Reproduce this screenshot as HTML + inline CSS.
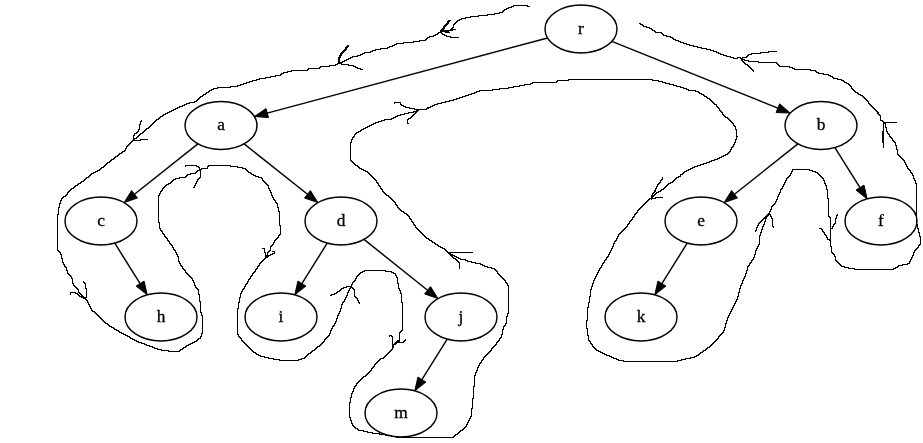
<!DOCTYPE html>
<html><head><meta charset="utf-8"><style>
html,body{margin:0;padding:0;background:#fff;}
svg{display:block;will-change:transform;}
.e{fill:none;stroke:#000;stroke-width:1.45;}
.ah{fill:#000;stroke:#000;stroke-width:1;}
.n{fill:none;stroke:#000;stroke-width:1.45;}
.h{fill:none;stroke:#000;stroke-width:1.35;stroke-linejoin:round;shape-rendering:crispEdges;}
text{font-family:"Liberation Serif",serif;font-size:17.4px;text-anchor:middle;fill:#000;stroke:#000;stroke-width:0.3;}
</style></head><body>
<svg width="923" height="443" viewBox="0 0 923 443">
<rect width="923" height="443" fill="#fff"/>
<path d="M513 5h15v1h-15zM511 6h3v1h-3zM527 6h3v1h-3zM508 7h4v1h-4zM506 8h3v1h-3zM504 9h3v1h-3zM503 10h2v1h-2zM502 11h2v1h-2zM499 12h4v1h-4zM494 13h6v1h-6zM487 14h8v1h-8zM478 15h10v1h-10zM470 16h9v1h-9zM465 17h6v1h-6zM461 18h5v1h-5zM459 19h3v1h-3zM448 20h3v1h-3zM457 20h3v1h-3zM447 21h3v1h-3zM456 21h2v1h-2zM447 22h2v1h-2zM455 22h2v1h-2zM446 23h3v1h-3zM454 23h2v1h-2zM639 23h2v1h-2zM445 24h3v1h-3zM453 24h2v1h-2zM640 24h3v1h-3zM444 25h3v1h-3zM453 25h1v1h-1zM642 25h2v1h-2zM443 26h3v1h-3zM453 26h1v1h-1zM643 26h4v1h-4zM443 27h2v1h-2zM452 27h2v1h-2zM646 27h4v1h-4zM442 28h3v1h-3zM451 28h2v1h-2zM649 28h3v1h-3zM441 29h3v1h-3zM450 29h6v1h-6zM651 29h2v1h-2zM440 30h13v1h-13zM652 30h3v1h-3zM440 31h9v1h-9zM654 31h2v1h-2zM438 32h4v1h-4zM445 32h5v1h-5zM655 32h7v1h-7zM437 33h2v1h-2zM441 33h2v1h-2zM661 33h2v1h-2zM435 34h3v1h-3zM442 34h3v1h-3zM662 34h2v1h-2zM433 35h3v1h-3zM444 35h3v1h-3zM663 35h4v1h-4zM429 36h5v1h-5zM446 36h5v1h-5zM666 36h5v1h-5zM427 37h3v1h-3zM450 37h9v1h-9zM670 37h3v1h-3zM426 38h2v1h-2zM672 38h2v1h-2zM425 39h2v1h-2zM673 39h3v1h-3zM419 40h7v1h-7zM675 40h4v1h-4zM413 41h7v1h-7zM678 41h3v1h-3zM403 42h11v1h-11zM680 42h4v1h-4zM396 43h8v1h-8zM683 43h4v1h-4zM394 44h3v1h-3zM686 44h4v1h-4zM347 45h2v1h-2zM392 45h3v1h-3zM689 45h5v1h-5zM346 46h3v1h-3zM389 46h4v1h-4zM693 46h5v1h-5zM345 47h3v1h-3zM387 47h3v1h-3zM697 47h5v1h-5zM345 48h2v1h-2zM380 48h8v1h-8zM701 48h6v1h-6zM344 49h3v1h-3zM375 49h6v1h-6zM706 49h5v1h-5zM343 50h3v1h-3zM372 50h4v1h-4zM710 50h4v1h-4zM342 51h3v1h-3zM370 51h3v1h-3zM713 51h4v1h-4zM768 51h9v1h-9zM341 52h3v1h-3zM364 52h7v1h-7zM716 52h3v1h-3zM760 52h9v1h-9zM340 53h3v1h-3zM362 53h3v1h-3zM718 53h3v1h-3zM751 53h10v1h-10zM340 54h2v1h-2zM360 54h3v1h-3zM720 54h4v1h-4zM748 54h4v1h-4zM339 55h3v1h-3zM357 55h4v1h-4zM723 55h4v1h-4zM747 55h2v1h-2zM339 56h2v1h-2zM352 56h6v1h-6zM726 56h5v1h-5zM746 56h2v1h-2zM338 57h3v1h-3zM350 57h3v1h-3zM730 57h4v1h-4zM737 57h4v1h-4zM742 57h5v1h-5zM338 58h2v1h-2zM348 58h3v1h-3zM733 58h5v1h-5zM740 58h3v1h-3zM338 59h2v1h-2zM346 59h3v1h-3zM741 59h4v1h-4zM338 60h2v1h-2zM344 60h3v1h-3zM741 60h2v1h-2zM744 60h5v1h-5zM338 61h2v1h-2zM342 61h3v1h-3zM742 61h2v1h-2zM748 61h11v1h-11zM338 62h5v1h-5zM743 62h2v1h-2zM758 62h19v1h-19zM337 63h5v1h-5zM744 63h2v1h-2zM776 63h2v1h-2zM335 64h3v1h-3zM341 64h8v1h-8zM745 64h3v1h-3zM777 64h2v1h-2zM329 65h7v1h-7zM348 65h6v1h-6zM747 65h2v1h-2zM778 65h2v1h-2zM320 66h10v1h-10zM353 66h3v1h-3zM748 66h2v1h-2zM779 66h11v1h-11zM319 67h2v1h-2zM355 67h3v1h-3zM749 67h2v1h-2zM789 67h4v1h-4zM308 68h12v1h-12zM357 68h4v1h-4zM750 68h2v1h-2zM792 68h3v1h-3zM307 69h2v1h-2zM360 69h3v1h-3zM751 69h2v1h-2zM794 69h17v1h-17zM291 70h17v1h-17zM752 70h2v1h-2zM810 70h6v1h-6zM287 71h5v1h-5zM753 71h1v1h-1zM815 71h2v1h-2zM283 72h5v1h-5zM816 72h3v1h-3zM281 73h3v1h-3zM818 73h6v1h-6zM280 74h2v1h-2zM823 74h6v1h-6zM275 75h6v1h-6zM828 75h3v1h-3zM270 76h6v1h-6zM830 76h3v1h-3zM265 77h6v1h-6zM832 77h2v1h-2zM259 78h7v1h-7zM833 78h5v1h-5zM256 79h4v1h-4zM568 79h85v1h-85zM837 79h5v1h-5zM252 80h5v1h-5zM557 80h12v1h-12zM652 80h7v1h-7zM841 80h3v1h-3zM249 81h4v1h-4zM556 81h2v1h-2zM658 81h5v1h-5zM843 81h2v1h-2zM246 82h4v1h-4zM532 82h25v1h-25zM662 82h4v1h-4zM844 82h3v1h-3zM243 83h4v1h-4zM530 83h3v1h-3zM665 83h5v1h-5zM846 83h3v1h-3zM240 84h4v1h-4zM524 84h7v1h-7zM669 84h5v1h-5zM848 84h2v1h-2zM237 85h4v1h-4zM519 85h6v1h-6zM673 85h4v1h-4zM849 85h2v1h-2zM230 86h8v1h-8zM513 86h7v1h-7zM676 86h5v1h-5zM850 86h2v1h-2zM217 87h14v1h-14zM508 87h6v1h-6zM680 87h4v1h-4zM851 87h1v1h-1zM213 88h5v1h-5zM499 88h10v1h-10zM683 88h4v1h-4zM851 88h2v1h-2zM211 89h3v1h-3zM492 89h8v1h-8zM686 89h3v1h-3zM852 89h2v1h-2zM209 90h3v1h-3zM479 90h14v1h-14zM688 90h8v1h-8zM853 90h2v1h-2zM208 91h2v1h-2zM476 91h4v1h-4zM695 91h4v1h-4zM854 91h2v1h-2zM206 92h3v1h-3zM474 92h3v1h-3zM698 92h2v1h-2zM855 92h3v1h-3zM205 93h2v1h-2zM471 93h4v1h-4zM699 93h3v1h-3zM857 93h2v1h-2zM203 94h3v1h-3zM468 94h4v1h-4zM701 94h3v1h-3zM858 94h3v1h-3zM202 95h2v1h-2zM465 95h4v1h-4zM703 95h2v1h-2zM860 95h3v1h-3zM200 96h3v1h-3zM462 96h4v1h-4zM704 96h3v1h-3zM862 96h2v1h-2zM199 97h2v1h-2zM459 97h4v1h-4zM706 97h2v1h-2zM863 97h2v1h-2zM198 98h2v1h-2zM456 98h4v1h-4zM707 98h3v1h-3zM864 98h2v1h-2zM197 99h2v1h-2zM453 99h4v1h-4zM709 99h2v1h-2zM865 99h2v1h-2zM196 100h2v1h-2zM449 100h5v1h-5zM710 100h2v1h-2zM866 100h2v1h-2zM194 101h3v1h-3zM445 101h5v1h-5zM711 101h2v1h-2zM867 101h2v1h-2zM189 102h6v1h-6zM394 102h7v1h-7zM441 102h5v1h-5zM712 102h2v1h-2zM868 102h1v1h-1zM186 103h4v1h-4zM394 103h1v1h-1zM400 103h1v1h-1zM437 103h5v1h-5zM713 103h2v1h-2zM868 103h2v1h-2zM184 104h3v1h-3zM400 104h2v1h-2zM434 104h4v1h-4zM714 104h3v1h-3zM869 104h2v1h-2zM182 105h3v1h-3zM401 105h3v1h-3zM432 105h3v1h-3zM716 105h1v1h-1zM870 105h2v1h-2zM179 106h4v1h-4zM403 106h3v1h-3zM430 106h3v1h-3zM716 106h2v1h-2zM871 106h2v1h-2zM177 107h3v1h-3zM405 107h5v1h-5zM427 107h4v1h-4zM717 107h2v1h-2zM872 107h2v1h-2zM175 108h3v1h-3zM409 108h6v1h-6zM426 108h3v1h-3zM718 108h2v1h-2zM873 108h2v1h-2zM173 109h3v1h-3zM414 109h13v1h-13zM719 109h1v1h-1zM874 109h2v1h-2zM171 110h3v1h-3zM416 110h3v1h-3zM719 110h2v1h-2zM875 110h2v1h-2zM169 111h3v1h-3zM413 111h5v1h-5zM720 111h2v1h-2zM876 111h2v1h-2zM167 112h3v1h-3zM408 112h6v1h-6zM415 112h2v1h-2zM721 112h2v1h-2zM877 112h2v1h-2zM165 113h3v1h-3zM404 113h5v1h-5zM414 113h2v1h-2zM722 113h1v1h-1zM877 113h2v1h-2zM163 114h3v1h-3zM400 114h5v1h-5zM413 114h2v1h-2zM722 114h2v1h-2zM878 114h2v1h-2zM162 115h2v1h-2zM397 115h4v1h-4zM412 115h2v1h-2zM723 115h2v1h-2zM879 115h2v1h-2zM160 116h3v1h-3zM395 116h3v1h-3zM411 116h2v1h-2zM724 116h2v1h-2zM880 116h1v1h-1zM159 117h2v1h-2zM393 117h3v1h-3zM410 117h2v1h-2zM725 117h3v1h-3zM880 117h1v1h-1zM158 118h2v1h-2zM391 118h3v1h-3zM408 118h3v1h-3zM727 118h2v1h-2zM880 118h1v1h-1zM156 119h3v1h-3zM384 119h8v1h-8zM407 119h2v1h-2zM728 119h2v1h-2zM880 119h1v1h-1zM141 120h1v1h-1zM155 120h2v1h-2zM381 120h4v1h-4zM407 120h1v1h-1zM729 120h2v1h-2zM880 120h3v1h-3zM140 121h2v1h-2zM154 121h2v1h-2zM378 121h4v1h-4zM407 121h1v1h-1zM730 121h2v1h-2zM882 121h2v1h-2zM140 122h1v1h-1zM153 122h2v1h-2zM375 122h4v1h-4zM407 122h1v1h-1zM731 122h2v1h-2zM883 122h14v1h-14zM140 123h1v1h-1zM152 123h2v1h-2zM373 123h3v1h-3zM407 123h2v1h-2zM732 123h2v1h-2zM883 123h3v1h-3zM139 124h2v1h-2zM151 124h2v1h-2zM371 124h3v1h-3zM733 124h1v1h-1zM883 124h1v1h-1zM885 124h1v1h-1zM139 125h1v1h-1zM150 125h2v1h-2zM369 125h3v1h-3zM733 125h2v1h-2zM883 125h1v1h-1zM885 125h1v1h-1zM139 126h1v1h-1zM149 126h2v1h-2zM367 126h3v1h-3zM734 126h2v1h-2zM883 126h1v1h-1zM885 126h1v1h-1zM139 127h1v1h-1zM148 127h2v1h-2zM365 127h3v1h-3zM735 127h1v1h-1zM883 127h1v1h-1zM885 127h2v1h-2zM139 128h1v1h-1zM146 128h3v1h-3zM363 128h3v1h-3zM735 128h1v1h-1zM883 128h1v1h-1zM886 128h1v1h-1zM138 129h2v1h-2zM145 129h2v1h-2zM361 129h3v1h-3zM735 129h2v1h-2zM883 129h1v1h-1zM886 129h1v1h-1zM138 130h1v1h-1zM144 130h2v1h-2zM360 130h2v1h-2zM736 130h1v1h-1zM883 130h1v1h-1zM886 130h1v1h-1zM137 131h2v1h-2zM143 131h2v1h-2zM358 131h3v1h-3zM736 131h1v1h-1zM882 131h2v1h-2zM886 131h2v1h-2zM136 132h2v1h-2zM142 132h2v1h-2zM356 132h3v1h-3zM736 132h1v1h-1zM882 132h2v1h-2zM887 132h1v1h-1zM134 133h3v1h-3zM140 133h3v1h-3zM355 133h2v1h-2zM736 133h1v1h-1zM882 133h2v1h-2zM887 133h2v1h-2zM134 134h1v1h-1zM139 134h2v1h-2zM354 134h2v1h-2zM736 134h1v1h-1zM882 134h2v1h-2zM888 134h2v1h-2zM133 135h2v1h-2zM138 135h2v1h-2zM354 135h1v1h-1zM736 135h1v1h-1zM882 135h2v1h-2zM889 135h1v1h-1zM133 136h1v1h-1zM137 136h2v1h-2zM353 136h2v1h-2zM736 136h2v1h-2zM882 136h2v1h-2zM889 136h2v1h-2zM133 137h1v1h-1zM136 137h2v1h-2zM352 137h2v1h-2zM736 137h1v1h-1zM882 137h2v1h-2zM890 137h2v1h-2zM133 138h4v1h-4zM352 138h1v1h-1zM736 138h1v1h-1zM882 138h2v1h-2zM891 138h2v1h-2zM133 139h2v1h-2zM140 139h8v1h-8zM351 139h2v1h-2zM735 139h2v1h-2zM882 139h2v1h-2zM892 139h1v1h-1zM132 140h9v1h-9zM351 140h1v1h-1zM735 140h1v1h-1zM882 140h2v1h-2zM892 140h2v1h-2zM131 141h2v1h-2zM351 141h1v1h-1zM735 141h1v1h-1zM882 141h2v1h-2zM893 141h2v1h-2zM130 142h2v1h-2zM350 142h2v1h-2zM734 142h2v1h-2zM882 142h2v1h-2zM894 142h2v1h-2zM129 143h2v1h-2zM350 143h1v1h-1zM734 143h1v1h-1zM883 143h1v1h-1zM895 143h1v1h-1zM128 144h2v1h-2zM350 144h1v1h-1zM733 144h2v1h-2zM883 144h1v1h-1zM895 144h1v1h-1zM127 145h2v1h-2zM350 145h1v1h-1zM733 145h1v1h-1zM883 145h1v1h-1zM895 145h2v1h-2zM126 146h2v1h-2zM350 146h1v1h-1zM732 146h2v1h-2zM883 146h1v1h-1zM896 146h1v1h-1zM126 147h1v1h-1zM350 147h1v1h-1zM731 147h2v1h-2zM883 147h1v1h-1zM896 147h1v1h-1zM125 148h2v1h-2zM350 148h1v1h-1zM731 148h1v1h-1zM896 148h1v1h-1zM125 149h1v1h-1zM350 149h1v1h-1zM730 149h2v1h-2zM896 149h2v1h-2zM124 150h2v1h-2zM350 150h1v1h-1zM730 150h1v1h-1zM897 150h1v1h-1zM122 151h3v1h-3zM350 151h1v1h-1zM729 151h2v1h-2zM897 151h1v1h-1zM121 152h2v1h-2zM350 152h1v1h-1zM728 152h2v1h-2zM897 152h1v1h-1zM119 153h3v1h-3zM350 153h1v1h-1zM727 153h2v1h-2zM897 153h1v1h-1zM118 154h2v1h-2zM350 154h1v1h-1zM725 154h3v1h-3zM897 154h2v1h-2zM117 155h2v1h-2zM350 155h1v1h-1zM723 155h3v1h-3zM898 155h2v1h-2zM115 156h3v1h-3zM350 156h1v1h-1zM721 156h3v1h-3zM899 156h2v1h-2zM114 157h2v1h-2zM350 157h1v1h-1zM719 157h3v1h-3zM900 157h2v1h-2zM113 158h2v1h-2zM350 158h1v1h-1zM717 158h3v1h-3zM901 158h2v1h-2zM111 159h3v1h-3zM350 159h1v1h-1zM714 159h4v1h-4zM902 159h2v1h-2zM110 160h2v1h-2zM350 160h2v1h-2zM711 160h4v1h-4zM903 160h2v1h-2zM109 161h2v1h-2zM351 161h2v1h-2zM709 161h3v1h-3zM904 161h1v1h-1zM107 162h3v1h-3zM352 162h2v1h-2zM706 162h4v1h-4zM904 162h2v1h-2zM106 163h2v1h-2zM353 163h2v1h-2zM703 163h4v1h-4zM905 163h1v1h-1zM105 164h2v1h-2zM354 164h2v1h-2zM700 164h4v1h-4zM905 164h2v1h-2zM104 165h2v1h-2zM185 165h12v1h-12zM208 165h23v1h-23zM355 165h3v1h-3zM697 165h4v1h-4zM906 165h1v1h-1zM103 166h2v1h-2zM185 166h1v1h-1zM196 166h3v1h-3zM207 166h2v1h-2zM230 166h8v1h-8zM357 166h2v1h-2zM694 166h4v1h-4zM906 166h2v1h-2zM101 167h3v1h-3zM198 167h2v1h-2zM207 167h1v1h-1zM237 167h6v1h-6zM358 167h2v1h-2zM692 167h3v1h-3zM907 167h1v1h-1zM100 168h2v1h-2zM199 168h1v1h-1zM201 168h7v1h-7zM242 168h4v1h-4zM359 168h3v1h-3zM690 168h3v1h-3zM907 168h2v1h-2zM99 169h2v1h-2zM199 169h3v1h-3zM245 169h2v1h-2zM361 169h3v1h-3zM688 169h3v1h-3zM792 169h18v1h-18zM908 169h2v1h-2zM97 170h3v1h-3zM197 170h4v1h-4zM246 170h2v1h-2zM363 170h3v1h-3zM686 170h3v1h-3zM792 170h1v1h-1zM809 170h4v1h-4zM909 170h2v1h-2zM95 171h3v1h-3zM196 171h2v1h-2zM200 171h1v1h-1zM247 171h2v1h-2zM365 171h3v1h-3zM684 171h3v1h-3zM791 171h2v1h-2zM812 171h4v1h-4zM910 171h1v1h-1zM93 172h3v1h-3zM195 172h2v1h-2zM200 172h1v1h-1zM248 172h3v1h-3zM367 172h2v1h-2zM683 172h2v1h-2zM791 172h1v1h-1zM815 172h3v1h-3zM910 172h2v1h-2zM91 173h3v1h-3zM190 173h6v1h-6zM200 173h1v1h-1zM250 173h2v1h-2zM368 173h2v1h-2zM682 173h2v1h-2zM790 173h2v1h-2zM817 173h2v1h-2zM911 173h2v1h-2zM90 174h2v1h-2zM187 174h4v1h-4zM200 174h1v1h-1zM251 174h3v1h-3zM369 174h2v1h-2zM680 174h3v1h-3zM790 174h1v1h-1zM818 174h2v1h-2zM912 174h1v1h-1zM89 175h2v1h-2zM186 175h2v1h-2zM200 175h1v1h-1zM253 175h3v1h-3zM370 175h2v1h-2zM680 175h1v1h-1zM789 175h2v1h-2zM819 175h2v1h-2zM912 175h2v1h-2zM88 176h2v1h-2zM185 176h2v1h-2zM200 176h1v1h-1zM255 176h4v1h-4zM371 176h2v1h-2zM678 176h3v1h-3zM788 176h2v1h-2zM820 176h2v1h-2zM913 176h1v1h-1zM86 177h3v1h-3zM179 177h7v1h-7zM199 177h2v1h-2zM258 177h4v1h-4zM372 177h2v1h-2zM662 177h1v1h-1zM676 177h3v1h-3zM787 177h2v1h-2zM821 177h2v1h-2zM913 177h1v1h-1zM85 178h2v1h-2zM175 178h5v1h-5zM198 178h2v1h-2zM261 178h2v1h-2zM373 178h2v1h-2zM662 178h1v1h-1zM675 178h2v1h-2zM786 178h2v1h-2zM822 178h2v1h-2zM913 178h2v1h-2zM84 179h2v1h-2zM173 179h3v1h-3zM197 179h2v1h-2zM262 179h1v1h-1zM374 179h2v1h-2zM661 179h2v1h-2zM674 179h2v1h-2zM786 179h1v1h-1zM823 179h1v1h-1zM914 179h1v1h-1zM83 180h2v1h-2zM172 180h2v1h-2zM197 180h1v1h-1zM262 180h2v1h-2zM375 180h2v1h-2zM660 180h2v1h-2zM673 180h2v1h-2zM785 180h2v1h-2zM823 180h2v1h-2zM914 180h2v1h-2zM81 181h3v1h-3zM171 181h2v1h-2zM196 181h2v1h-2zM263 181h2v1h-2zM376 181h1v1h-1zM660 181h1v1h-1zM672 181h2v1h-2zM785 181h1v1h-1zM824 181h1v1h-1zM915 181h1v1h-1zM80 182h2v1h-2zM170 182h2v1h-2zM196 182h1v1h-1zM264 182h2v1h-2zM376 182h2v1h-2zM659 182h2v1h-2zM670 182h3v1h-3zM784 182h2v1h-2zM824 182h1v1h-1zM915 182h1v1h-1zM78 183h3v1h-3zM168 183h3v1h-3zM195 183h2v1h-2zM265 183h2v1h-2zM377 183h2v1h-2zM658 183h2v1h-2zM668 183h3v1h-3zM784 183h1v1h-1zM824 183h2v1h-2zM915 183h2v1h-2zM77 184h2v1h-2zM166 184h3v1h-3zM195 184h1v1h-1zM266 184h2v1h-2zM378 184h1v1h-1zM657 184h2v1h-2zM667 184h2v1h-2zM783 184h2v1h-2zM825 184h1v1h-1zM916 184h1v1h-1zM75 185h3v1h-3zM165 185h2v1h-2zM194 185h2v1h-2zM267 185h2v1h-2zM378 185h2v1h-2zM657 185h1v1h-1zM666 185h2v1h-2zM783 185h1v1h-1zM825 185h2v1h-2zM916 185h1v1h-1zM74 186h2v1h-2zM164 186h2v1h-2zM194 186h1v1h-1zM268 186h1v1h-1zM379 186h2v1h-2zM656 186h2v1h-2zM665 186h2v1h-2zM782 186h2v1h-2zM826 186h1v1h-1zM916 186h1v1h-1zM73 187h2v1h-2zM163 187h2v1h-2zM193 187h2v1h-2zM268 187h1v1h-1zM380 187h1v1h-1zM656 187h1v1h-1zM664 187h2v1h-2zM782 187h1v1h-1zM826 187h1v1h-1zM916 187h1v1h-1zM71 188h3v1h-3zM162 188h2v1h-2zM268 188h2v1h-2zM380 188h2v1h-2zM655 188h2v1h-2zM663 188h2v1h-2zM781 188h2v1h-2zM826 188h1v1h-1zM916 188h1v1h-1zM70 189h2v1h-2zM162 189h1v1h-1zM269 189h1v1h-1zM381 189h2v1h-2zM655 189h1v1h-1zM661 189h3v1h-3zM780 189h2v1h-2zM826 189h2v1h-2zM916 189h1v1h-1zM69 190h2v1h-2zM161 190h2v1h-2zM269 190h2v1h-2zM382 190h1v1h-1zM654 190h2v1h-2zM660 190h2v1h-2zM780 190h1v1h-1zM827 190h1v1h-1zM916 190h1v1h-1zM68 191h2v1h-2zM160 191h2v1h-2zM270 191h1v1h-1zM382 191h2v1h-2zM654 191h2v1h-2zM658 191h3v1h-3zM780 191h1v1h-1zM827 191h1v1h-1zM916 191h1v1h-1zM67 192h2v1h-2zM160 192h1v1h-1zM270 192h2v1h-2zM383 192h2v1h-2zM653 192h2v1h-2zM656 192h3v1h-3zM779 192h2v1h-2zM827 192h1v1h-1zM916 192h1v1h-1zM67 193h1v1h-1zM159 193h2v1h-2zM271 193h1v1h-1zM384 193h2v1h-2zM652 193h2v1h-2zM655 193h2v1h-2zM779 193h1v1h-1zM827 193h1v1h-1zM916 193h1v1h-1zM66 194h2v1h-2zM159 194h1v1h-1zM271 194h1v1h-1zM385 194h2v1h-2zM652 194h1v1h-1zM654 194h2v1h-2zM778 194h2v1h-2zM827 194h1v1h-1zM916 194h1v1h-1zM65 195h2v1h-2zM158 195h2v1h-2zM271 195h2v1h-2zM386 195h3v1h-3zM651 195h4v1h-4zM778 195h1v1h-1zM827 195h1v1h-1zM916 195h1v1h-1zM63 196h3v1h-3zM158 196h1v1h-1zM272 196h1v1h-1zM388 196h2v1h-2zM651 196h3v1h-3zM777 196h2v1h-2zM827 196h1v1h-1zM916 196h1v1h-1zM62 197h2v1h-2zM158 197h1v1h-1zM272 197h2v1h-2zM389 197h2v1h-2zM651 197h2v1h-2zM655 197h8v1h-8zM777 197h1v1h-1zM827 197h1v1h-1zM916 197h1v1h-1zM61 198h2v1h-2zM158 198h1v1h-1zM273 198h1v1h-1zM390 198h2v1h-2zM649 198h7v1h-7zM777 198h1v1h-1zM827 198h2v1h-2zM916 198h1v1h-1zM61 199h1v1h-1zM158 199h1v1h-1zM273 199h2v1h-2zM391 199h2v1h-2zM648 199h2v1h-2zM651 199h1v1h-1zM776 199h2v1h-2zM828 199h1v1h-1zM916 199h1v1h-1zM60 200h2v1h-2zM158 200h1v1h-1zM274 200h2v1h-2zM392 200h2v1h-2zM647 200h2v1h-2zM776 200h1v1h-1zM828 200h1v1h-1zM916 200h1v1h-1zM60 201h1v1h-1zM158 201h1v1h-1zM275 201h1v1h-1zM393 201h2v1h-2zM646 201h2v1h-2zM775 201h2v1h-2zM828 201h1v1h-1zM916 201h1v1h-1zM60 202h1v1h-1zM158 202h1v1h-1zM275 202h2v1h-2zM394 202h2v1h-2zM645 202h2v1h-2zM775 202h1v1h-1zM828 202h1v1h-1zM916 202h1v1h-1zM59 203h2v1h-2zM158 203h1v1h-1zM276 203h2v1h-2zM395 203h1v1h-1zM644 203h2v1h-2zM774 203h2v1h-2zM828 203h1v1h-1zM916 203h1v1h-1zM59 204h1v1h-1zM158 204h1v1h-1zM277 204h1v1h-1zM395 204h2v1h-2zM643 204h2v1h-2zM773 204h2v1h-2zM828 204h1v1h-1zM916 204h1v1h-1zM59 205h1v1h-1zM158 205h1v1h-1zM277 205h1v1h-1zM396 205h2v1h-2zM642 205h2v1h-2zM772 205h2v1h-2zM828 205h1v1h-1zM916 205h1v1h-1zM59 206h1v1h-1zM158 206h1v1h-1zM277 206h1v1h-1zM397 206h1v1h-1zM641 206h2v1h-2zM771 206h2v1h-2zM828 206h1v1h-1zM916 206h1v1h-1zM58 207h2v1h-2zM158 207h1v1h-1zM277 207h2v1h-2zM397 207h2v1h-2zM640 207h2v1h-2zM771 207h1v1h-1zM828 207h1v1h-1zM916 207h1v1h-1zM58 208h1v1h-1zM158 208h1v1h-1zM278 208h1v1h-1zM398 208h2v1h-2zM639 208h2v1h-2zM771 208h1v1h-1zM828 208h1v1h-1zM916 208h1v1h-1zM58 209h1v1h-1zM158 209h1v1h-1zM278 209h1v1h-1zM399 209h2v1h-2zM638 209h2v1h-2zM770 209h2v1h-2zM828 209h1v1h-1zM916 209h1v1h-1zM58 210h1v1h-1zM158 210h1v1h-1zM278 210h1v1h-1zM400 210h2v1h-2zM637 210h2v1h-2zM770 210h1v1h-1zM828 210h1v1h-1zM916 210h1v1h-1zM58 211h1v1h-1zM158 211h1v1h-1zM278 211h2v1h-2zM401 211h3v1h-3zM637 211h1v1h-1zM769 211h2v1h-2zM828 211h1v1h-1zM916 211h1v1h-1zM58 212h1v1h-1zM158 212h1v1h-1zM279 212h1v1h-1zM403 212h2v1h-2zM636 212h2v1h-2zM769 212h1v1h-1zM828 212h1v1h-1zM916 212h1v1h-1zM58 213h1v1h-1zM158 213h1v1h-1zM279 213h1v1h-1zM404 213h3v1h-3zM635 213h2v1h-2zM768 213h2v1h-2zM828 213h1v1h-1zM916 213h1v1h-1zM57 214h2v1h-2zM158 214h1v1h-1zM279 214h1v1h-1zM406 214h2v1h-2zM634 214h2v1h-2zM767 214h4v1h-4zM828 214h1v1h-1zM837 214h1v1h-1zM916 214h1v1h-1zM57 215h1v1h-1zM158 215h1v1h-1zM279 215h1v1h-1zM407 215h2v1h-2zM634 215h1v1h-1zM766 215h3v1h-3zM770 215h1v1h-1zM828 215h1v1h-1zM836 215h2v1h-2zM916 215h1v1h-1zM57 216h1v1h-1zM158 216h1v1h-1zM279 216h1v1h-1zM408 216h2v1h-2zM633 216h2v1h-2zM765 216h3v1h-3zM770 216h2v1h-2zM828 216h2v1h-2zM836 216h1v1h-1zM916 216h1v1h-1zM57 217h1v1h-1zM158 217h1v1h-1zM279 217h1v1h-1zM409 217h1v1h-1zM632 217h2v1h-2zM764 217h3v1h-3zM771 217h1v1h-1zM829 217h2v1h-2zM836 217h1v1h-1zM916 217h1v1h-1zM57 218h1v1h-1zM158 218h1v1h-1zM279 218h1v1h-1zM409 218h2v1h-2zM632 218h1v1h-1zM763 218h4v1h-4zM771 218h2v1h-2zM830 218h1v1h-1zM835 218h2v1h-2zM916 218h1v1h-1zM57 219h1v1h-1zM158 219h1v1h-1zM279 219h1v1h-1zM410 219h2v1h-2zM631 219h2v1h-2zM762 219h2v1h-2zM765 219h1v1h-1zM772 219h1v1h-1zM830 219h1v1h-1zM835 219h1v1h-1zM916 219h1v1h-1zM57 220h1v1h-1zM158 220h1v1h-1zM279 220h1v1h-1zM411 220h1v1h-1zM630 220h2v1h-2zM761 220h2v1h-2zM765 220h1v1h-1zM772 220h1v1h-1zM830 220h1v1h-1zM835 220h1v1h-1zM916 220h1v1h-1zM57 221h1v1h-1zM158 221h1v1h-1zM279 221h1v1h-1zM411 221h2v1h-2zM629 221h2v1h-2zM760 221h2v1h-2zM764 221h2v1h-2zM772 221h1v1h-1zM830 221h1v1h-1zM835 221h1v1h-1zM916 221h1v1h-1zM57 222h1v1h-1zM158 222h2v1h-2zM279 222h1v1h-1zM412 222h2v1h-2zM629 222h1v1h-1zM759 222h2v1h-2zM764 222h1v1h-1zM772 222h1v1h-1zM830 222h1v1h-1zM835 222h1v1h-1zM916 222h1v1h-1zM57 223h1v1h-1zM159 223h1v1h-1zM279 223h1v1h-1zM413 223h1v1h-1zM628 223h2v1h-2zM758 223h2v1h-2zM764 223h1v1h-1zM772 223h1v1h-1zM830 223h1v1h-1zM834 223h2v1h-2zM916 223h1v1h-1zM57 224h1v1h-1zM159 224h1v1h-1zM279 224h1v1h-1zM413 224h2v1h-2zM627 224h2v1h-2zM758 224h1v1h-1zM763 224h2v1h-2zM772 224h1v1h-1zM830 224h1v1h-1zM833 224h2v1h-2zM916 224h2v1h-2zM57 225h1v1h-1zM159 225h1v1h-1zM279 225h2v1h-2zM414 225h2v1h-2zM627 225h1v1h-1zM757 225h2v1h-2zM763 225h1v1h-1zM772 225h1v1h-1zM830 225h1v1h-1zM833 225h1v1h-1zM917 225h1v1h-1zM57 226h1v1h-1zM159 226h1v1h-1zM280 226h1v1h-1zM415 226h1v1h-1zM626 226h2v1h-2zM757 226h1v1h-1zM762 226h2v1h-2zM772 226h2v1h-2zM830 226h1v1h-1zM832 226h2v1h-2zM917 226h1v1h-1zM57 227h1v1h-1zM159 227h1v1h-1zM280 227h1v1h-1zM415 227h2v1h-2zM625 227h2v1h-2zM756 227h2v1h-2zM762 227h1v1h-1zM773 227h1v1h-1zM830 227h1v1h-1zM832 227h1v1h-1zM917 227h1v1h-1zM57 228h1v1h-1zM159 228h2v1h-2zM280 228h1v1h-1zM416 228h2v1h-2zM624 228h2v1h-2zM756 228h1v1h-1zM762 228h1v1h-1zM819 228h3v1h-3zM830 228h3v1h-3zM917 228h2v1h-2zM57 229h1v1h-1zM160 229h1v1h-1zM280 229h1v1h-1zM417 229h2v1h-2zM623 229h2v1h-2zM756 229h1v1h-1zM761 229h2v1h-2zM821 229h2v1h-2zM830 229h1v1h-1zM918 229h1v1h-1zM57 230h1v1h-1zM160 230h2v1h-2zM280 230h1v1h-1zM418 230h2v1h-2zM622 230h2v1h-2zM755 230h2v1h-2zM761 230h1v1h-1zM822 230h1v1h-1zM830 230h1v1h-1zM918 230h1v1h-1zM57 231h1v1h-1zM161 231h2v1h-2zM280 231h1v1h-1zM419 231h2v1h-2zM621 231h2v1h-2zM755 231h1v1h-1zM761 231h1v1h-1zM822 231h2v1h-2zM830 231h1v1h-1zM918 231h1v1h-1zM57 232h1v1h-1zM162 232h1v1h-1zM280 232h1v1h-1zM420 232h2v1h-2zM620 232h2v1h-2zM760 232h2v1h-2zM823 232h2v1h-2zM830 232h1v1h-1zM918 232h2v1h-2zM57 233h1v1h-1zM162 233h2v1h-2zM280 233h1v1h-1zM421 233h2v1h-2zM619 233h2v1h-2zM760 233h1v1h-1zM824 233h1v1h-1zM830 233h1v1h-1zM919 233h1v1h-1zM57 234h1v1h-1zM163 234h2v1h-2zM279 234h2v1h-2zM422 234h2v1h-2zM618 234h2v1h-2zM760 234h1v1h-1zM824 234h2v1h-2zM830 234h1v1h-1zM919 234h1v1h-1zM57 235h1v1h-1zM164 235h1v1h-1zM278 235h2v1h-2zM423 235h2v1h-2zM618 235h1v1h-1zM759 235h2v1h-2zM825 235h2v1h-2zM830 235h1v1h-1zM919 235h1v1h-1zM57 236h1v1h-1zM164 236h2v1h-2zM278 236h1v1h-1zM424 236h2v1h-2zM617 236h2v1h-2zM759 236h1v1h-1zM826 236h1v1h-1zM830 236h1v1h-1zM919 236h2v1h-2zM57 237h1v1h-1zM165 237h2v1h-2zM277 237h2v1h-2zM425 237h2v1h-2zM617 237h1v1h-1zM759 237h1v1h-1zM826 237h2v1h-2zM830 237h1v1h-1zM920 237h1v1h-1zM57 238h1v1h-1zM166 238h2v1h-2zM276 238h2v1h-2zM426 238h3v1h-3zM616 238h2v1h-2zM759 238h1v1h-1zM827 238h1v1h-1zM830 238h1v1h-1zM920 238h1v1h-1zM57 239h1v1h-1zM167 239h1v1h-1zM275 239h2v1h-2zM428 239h2v1h-2zM616 239h1v1h-1zM759 239h1v1h-1zM827 239h4v1h-4zM920 239h1v1h-1zM57 240h1v1h-1zM167 240h2v1h-2zM274 240h2v1h-2zM429 240h3v1h-3zM615 240h2v1h-2zM759 240h1v1h-1zM829 240h2v1h-2zM920 240h1v1h-1zM57 241h1v1h-1zM168 241h2v1h-2zM274 241h1v1h-1zM431 241h2v1h-2zM614 241h2v1h-2zM759 241h1v1h-1zM830 241h1v1h-1zM920 241h1v1h-1zM57 242h1v1h-1zM169 242h1v1h-1zM273 242h2v1h-2zM432 242h3v1h-3zM614 242h1v1h-1zM759 242h1v1h-1zM830 242h1v1h-1zM920 242h1v1h-1zM57 243h1v1h-1zM169 243h2v1h-2zM273 243h1v1h-1zM434 243h2v1h-2zM613 243h2v1h-2zM759 243h1v1h-1zM830 243h1v1h-1zM920 243h1v1h-1zM57 244h1v1h-1zM170 244h2v1h-2zM272 244h2v1h-2zM435 244h3v1h-3zM613 244h1v1h-1zM758 244h2v1h-2zM830 244h1v1h-1zM919 244h2v1h-2zM57 245h1v1h-1zM171 245h2v1h-2zM271 245h2v1h-2zM437 245h2v1h-2zM613 245h1v1h-1zM758 245h1v1h-1zM830 245h1v1h-1zM918 245h2v1h-2zM57 246h1v1h-1zM172 246h1v1h-1zM270 246h2v1h-2zM438 246h3v1h-3zM612 246h2v1h-2zM757 246h2v1h-2zM830 246h2v1h-2zM918 246h1v1h-1zM57 247h1v1h-1zM172 247h2v1h-2zM270 247h1v1h-1zM440 247h3v1h-3zM612 247h1v1h-1zM757 247h1v1h-1zM831 247h1v1h-1zM917 247h2v1h-2zM57 248h1v1h-1zM173 248h1v1h-1zM262 248h3v1h-3zM270 248h1v1h-1zM442 248h3v1h-3zM611 248h2v1h-2zM756 248h2v1h-2zM831 248h1v1h-1zM916 248h2v1h-2zM57 249h1v1h-1zM173 249h2v1h-2zM264 249h1v1h-1zM270 249h1v1h-1zM444 249h2v1h-2zM611 249h1v1h-1zM756 249h1v1h-1zM831 249h1v1h-1zM915 249h2v1h-2zM57 250h2v1h-2zM174 250h2v1h-2zM264 250h1v1h-1zM269 250h2v1h-2zM445 250h2v1h-2zM610 250h2v1h-2zM755 250h2v1h-2zM831 250h1v1h-1zM914 250h2v1h-2zM58 251h2v1h-2zM175 251h1v1h-1zM264 251h1v1h-1zM268 251h2v1h-2zM272 251h3v1h-3zM446 251h2v1h-2zM610 251h1v1h-1zM755 251h1v1h-1zM831 251h1v1h-1zM914 251h1v1h-1zM59 252h2v1h-2zM175 252h2v1h-2zM264 252h2v1h-2zM267 252h2v1h-2zM274 252h1v1h-1zM447 252h26v1h-26zM609 252h2v1h-2zM755 252h1v1h-1zM831 252h2v1h-2zM913 252h2v1h-2zM60 253h1v1h-1zM176 253h1v1h-1zM265 253h1v1h-1zM267 253h1v1h-1zM272 253h3v1h-3zM448 253h3v1h-3zM609 253h1v1h-1zM755 253h1v1h-1zM832 253h2v1h-2zM913 253h1v1h-1zM60 254h2v1h-2zM176 254h2v1h-2zM265 254h1v1h-1zM267 254h1v1h-1zM270 254h3v1h-3zM449 254h4v1h-4zM608 254h2v1h-2zM754 254h2v1h-2zM833 254h2v1h-2zM913 254h1v1h-1zM61 255h1v1h-1zM177 255h1v1h-1zM265 255h6v1h-6zM450 255h5v1h-5zM608 255h1v1h-1zM754 255h1v1h-1zM834 255h1v1h-1zM912 255h2v1h-2zM61 256h1v1h-1zM177 256h2v1h-2zM265 256h4v1h-4zM451 256h2v1h-2zM454 256h3v1h-3zM607 256h2v1h-2zM754 256h1v1h-1zM834 256h2v1h-2zM912 256h1v1h-1zM61 257h1v1h-1zM178 257h1v1h-1zM265 257h3v1h-3zM452 257h2v1h-2zM456 257h3v1h-3zM606 257h2v1h-2zM753 257h2v1h-2zM835 257h1v1h-1zM911 257h2v1h-2zM61 258h2v1h-2zM178 258h1v1h-1zM264 258h2v1h-2zM453 258h3v1h-3zM458 258h3v1h-3zM606 258h1v1h-1zM753 258h1v1h-1zM835 258h1v1h-1zM911 258h1v1h-1zM62 259h1v1h-1zM178 259h1v1h-1zM263 259h2v1h-2zM455 259h2v1h-2zM460 259h6v1h-6zM605 259h2v1h-2zM752 259h2v1h-2zM835 259h1v1h-1zM910 259h2v1h-2zM62 260h1v1h-1zM178 260h1v1h-1zM262 260h2v1h-2zM456 260h2v1h-2zM465 260h3v1h-3zM604 260h2v1h-2zM751 260h2v1h-2zM835 260h2v1h-2zM910 260h1v1h-1zM62 261h1v1h-1zM178 261h2v1h-2zM261 261h2v1h-2zM457 261h2v1h-2zM467 261h5v1h-5zM604 261h1v1h-1zM751 261h1v1h-1zM836 261h2v1h-2zM909 261h2v1h-2zM62 262h2v1h-2zM179 262h1v1h-1zM260 262h2v1h-2zM458 262h2v1h-2zM471 262h5v1h-5zM603 262h2v1h-2zM750 262h2v1h-2zM837 262h2v1h-2zM909 262h1v1h-1zM63 263h1v1h-1zM179 263h2v1h-2zM259 263h2v1h-2zM459 263h1v1h-1zM475 263h6v1h-6zM602 263h2v1h-2zM749 263h2v1h-2zM838 263h2v1h-2zM907 263h3v1h-3zM63 264h2v1h-2zM180 264h1v1h-1zM259 264h1v1h-1zM459 264h1v1h-1zM480 264h3v1h-3zM602 264h1v1h-1zM749 264h1v1h-1zM839 264h2v1h-2zM902 264h6v1h-6zM64 265h1v1h-1zM180 265h2v1h-2zM258 265h2v1h-2zM459 265h1v1h-1zM482 265h3v1h-3zM601 265h2v1h-2zM748 265h2v1h-2zM840 265h2v1h-2zM898 265h5v1h-5zM64 266h2v1h-2zM181 266h2v1h-2zM257 266h2v1h-2zM459 266h1v1h-1zM484 266h4v1h-4zM601 266h1v1h-1zM747 266h2v1h-2zM841 266h4v1h-4zM897 266h2v1h-2zM65 267h2v1h-2zM182 267h1v1h-1zM257 267h1v1h-1zM459 267h1v1h-1zM487 267h5v1h-5zM600 267h2v1h-2zM747 267h1v1h-1zM844 267h5v1h-5zM895 267h3v1h-3zM66 268h1v1h-1zM182 268h2v1h-2zM256 268h2v1h-2zM459 268h1v1h-1zM491 268h4v1h-4zM599 268h2v1h-2zM747 268h1v1h-1zM848 268h7v1h-7zM893 268h3v1h-3zM66 269h1v1h-1zM183 269h2v1h-2zM255 269h2v1h-2zM494 269h2v1h-2zM599 269h1v1h-1zM747 269h1v1h-1zM854 269h40v1h-40zM66 270h2v1h-2zM184 270h2v1h-2zM255 270h1v1h-1zM364 270h22v1h-22zM495 270h2v1h-2zM598 270h2v1h-2zM746 270h2v1h-2zM67 271h1v1h-1zM185 271h1v1h-1zM254 271h2v1h-2zM362 271h3v1h-3zM385 271h7v1h-7zM496 271h2v1h-2zM598 271h1v1h-1zM746 271h1v1h-1zM67 272h1v1h-1zM185 272h2v1h-2zM253 272h2v1h-2zM360 272h3v1h-3zM391 272h3v1h-3zM497 272h1v1h-1zM597 272h2v1h-2zM746 272h1v1h-1zM67 273h2v1h-2zM186 273h2v1h-2zM252 273h2v1h-2zM359 273h2v1h-2zM393 273h3v1h-3zM497 273h2v1h-2zM597 273h1v1h-1zM745 273h2v1h-2zM68 274h2v1h-2zM187 274h2v1h-2zM252 274h1v1h-1zM358 274h2v1h-2zM395 274h1v1h-1zM498 274h2v1h-2zM596 274h2v1h-2zM745 274h1v1h-1zM69 275h2v1h-2zM188 275h2v1h-2zM251 275h2v1h-2zM357 275h2v1h-2zM395 275h2v1h-2zM499 275h2v1h-2zM596 275h1v1h-1zM745 275h1v1h-1zM70 276h2v1h-2zM189 276h2v1h-2zM250 276h2v1h-2zM356 276h2v1h-2zM396 276h1v1h-1zM500 276h2v1h-2zM595 276h2v1h-2zM744 276h2v1h-2zM71 277h1v1h-1zM190 277h2v1h-2zM250 277h1v1h-1zM356 277h1v1h-1zM396 277h2v1h-2zM501 277h2v1h-2zM595 277h1v1h-1zM744 277h1v1h-1zM71 278h2v1h-2zM191 278h2v1h-2zM249 278h2v1h-2zM355 278h2v1h-2zM397 278h1v1h-1zM502 278h2v1h-2zM594 278h2v1h-2zM743 278h2v1h-2zM72 279h1v1h-1zM192 279h1v1h-1zM248 279h2v1h-2zM355 279h1v1h-1zM397 279h1v1h-1zM503 279h2v1h-2zM594 279h1v1h-1zM743 279h1v1h-1zM72 280h1v1h-1zM192 280h2v1h-2zM248 280h1v1h-1zM354 280h2v1h-2zM397 280h1v1h-1zM504 280h2v1h-2zM593 280h2v1h-2zM742 280h2v1h-2zM72 281h1v1h-1zM83 281h1v1h-1zM193 281h1v1h-1zM247 281h2v1h-2zM353 281h2v1h-2zM397 281h1v1h-1zM505 281h1v1h-1zM593 281h1v1h-1zM742 281h1v1h-1zM72 282h1v1h-1zM83 282h2v1h-2zM193 282h2v1h-2zM247 282h1v1h-1zM352 282h2v1h-2zM397 282h1v1h-1zM505 282h2v1h-2zM593 282h1v1h-1zM742 282h1v1h-1zM72 283h2v1h-2zM84 283h2v1h-2zM194 283h1v1h-1zM246 283h2v1h-2zM352 283h1v1h-1zM397 283h2v1h-2zM506 283h2v1h-2zM592 283h2v1h-2zM741 283h2v1h-2zM73 284h1v1h-1zM85 284h1v1h-1zM194 284h1v1h-1zM245 284h2v1h-2zM351 284h2v1h-2zM398 284h1v1h-1zM507 284h1v1h-1zM592 284h1v1h-1zM741 284h1v1h-1zM73 285h2v1h-2zM85 285h1v1h-1zM194 285h2v1h-2zM245 285h1v1h-1zM351 285h1v1h-1zM398 285h1v1h-1zM507 285h2v1h-2zM592 285h1v1h-1zM740 285h2v1h-2zM74 286h2v1h-2zM85 286h1v1h-1zM195 286h1v1h-1zM244 286h2v1h-2zM346 286h6v1h-6zM398 286h1v1h-1zM508 286h1v1h-1zM591 286h2v1h-2zM740 286h1v1h-1zM75 287h2v1h-2zM85 287h1v1h-1zM195 287h2v1h-2zM244 287h1v1h-1zM343 287h4v1h-4zM350 287h3v1h-3zM398 287h1v1h-1zM508 287h1v1h-1zM591 287h1v1h-1zM740 287h1v1h-1zM76 288h2v1h-2zM85 288h2v1h-2zM196 288h2v1h-2zM243 288h2v1h-2zM341 288h3v1h-3zM349 288h2v1h-2zM352 288h2v1h-2zM398 288h2v1h-2zM508 288h1v1h-1zM591 288h1v1h-1zM739 288h2v1h-2zM77 289h2v1h-2zM86 289h1v1h-1zM197 289h2v1h-2zM242 289h2v1h-2zM340 289h2v1h-2zM349 289h1v1h-1zM353 289h2v1h-2zM399 289h1v1h-1zM508 289h1v1h-1zM590 289h2v1h-2zM739 289h1v1h-1zM78 290h1v1h-1zM86 290h1v1h-1zM198 290h1v1h-1zM242 290h1v1h-1zM339 290h2v1h-2zM348 290h2v1h-2zM354 290h1v1h-1zM399 290h2v1h-2zM508 290h1v1h-1zM590 290h1v1h-1zM739 290h1v1h-1zM78 291h1v1h-1zM86 291h1v1h-1zM198 291h1v1h-1zM241 291h2v1h-2zM337 291h3v1h-3zM348 291h1v1h-1zM354 291h1v1h-1zM400 291h1v1h-1zM508 291h1v1h-1zM590 291h1v1h-1zM739 291h1v1h-1zM70 292h6v1h-6zM78 292h2v1h-2zM86 292h1v1h-1zM198 292h1v1h-1zM241 292h1v1h-1zM336 292h2v1h-2zM347 292h2v1h-2zM354 292h1v1h-1zM400 292h1v1h-1zM508 292h1v1h-1zM590 292h1v1h-1zM738 292h2v1h-2zM70 293h1v1h-1zM75 293h3v1h-3zM79 293h2v1h-2zM86 293h1v1h-1zM198 293h1v1h-1zM240 293h2v1h-2zM334 293h3v1h-3zM347 293h1v1h-1zM354 293h1v1h-1zM400 293h2v1h-2zM508 293h1v1h-1zM590 293h1v1h-1zM738 293h1v1h-1zM70 294h1v1h-1zM77 294h2v1h-2zM80 294h2v1h-2zM86 294h1v1h-1zM198 294h2v1h-2zM240 294h1v1h-1zM331 294h4v1h-4zM347 294h1v1h-1zM354 294h1v1h-1zM401 294h1v1h-1zM508 294h1v1h-1zM590 294h1v1h-1zM738 294h1v1h-1zM78 295h2v1h-2zM81 295h2v1h-2zM86 295h1v1h-1zM199 295h1v1h-1zM240 295h1v1h-1zM330 295h2v1h-2zM346 295h2v1h-2zM354 295h1v1h-1zM401 295h1v1h-1zM508 295h1v1h-1zM590 295h1v1h-1zM738 295h1v1h-1zM79 296h5v1h-5zM86 296h1v1h-1zM199 296h1v1h-1zM240 296h1v1h-1zM346 296h1v1h-1zM354 296h2v1h-2zM401 296h1v1h-1zM508 296h1v1h-1zM589 296h2v1h-2zM737 296h2v1h-2zM81 297h6v1h-6zM199 297h1v1h-1zM239 297h2v1h-2zM345 297h2v1h-2zM355 297h2v1h-2zM401 297h1v1h-1zM508 297h1v1h-1zM589 297h1v1h-1zM737 297h1v1h-1zM83 298h3v1h-3zM199 298h1v1h-1zM239 298h1v1h-1zM345 298h1v1h-1zM356 298h2v1h-2zM401 298h1v1h-1zM508 298h1v1h-1zM589 298h1v1h-1zM737 298h1v1h-1zM85 299h2v1h-2zM199 299h1v1h-1zM239 299h1v1h-1zM344 299h2v1h-2zM357 299h1v1h-1zM401 299h1v1h-1zM508 299h1v1h-1zM589 299h1v1h-1zM736 299h2v1h-2zM86 300h2v1h-2zM199 300h1v1h-1zM239 300h1v1h-1zM344 300h1v1h-1zM357 300h2v1h-2zM401 300h1v1h-1zM508 300h1v1h-1zM589 300h1v1h-1zM736 300h1v1h-1zM87 301h1v1h-1zM199 301h2v1h-2zM239 301h1v1h-1zM343 301h2v1h-2zM358 301h1v1h-1zM401 301h1v1h-1zM508 301h1v1h-1zM589 301h1v1h-1zM735 301h2v1h-2zM87 302h2v1h-2zM200 302h1v1h-1zM238 302h2v1h-2zM342 302h2v1h-2zM358 302h2v1h-2zM401 302h2v1h-2zM508 302h1v1h-1zM588 302h2v1h-2zM735 302h1v1h-1zM88 303h1v1h-1zM200 303h1v1h-1zM238 303h1v1h-1zM342 303h1v1h-1zM359 303h1v1h-1zM402 303h1v1h-1zM508 303h1v1h-1zM588 303h1v1h-1zM734 303h2v1h-2zM88 304h2v1h-2zM200 304h1v1h-1zM238 304h1v1h-1zM341 304h2v1h-2zM402 304h1v1h-1zM508 304h1v1h-1zM588 304h1v1h-1zM734 304h1v1h-1zM89 305h1v1h-1zM200 305h1v1h-1zM238 305h1v1h-1zM341 305h1v1h-1zM402 305h1v1h-1zM508 305h1v1h-1zM588 305h1v1h-1zM733 305h2v1h-2zM89 306h2v1h-2zM200 306h1v1h-1zM238 306h1v1h-1zM341 306h1v1h-1zM402 306h1v1h-1zM508 306h1v1h-1zM588 306h1v1h-1zM733 306h1v1h-1zM90 307h1v1h-1zM200 307h1v1h-1zM238 307h1v1h-1zM341 307h1v1h-1zM402 307h1v1h-1zM508 307h1v1h-1zM587 307h2v1h-2zM732 307h2v1h-2zM90 308h2v1h-2zM200 308h1v1h-1zM237 308h2v1h-2zM340 308h2v1h-2zM402 308h1v1h-1zM508 308h1v1h-1zM587 308h1v1h-1zM732 308h1v1h-1zM91 309h1v1h-1zM200 309h1v1h-1zM237 309h1v1h-1zM340 309h1v1h-1zM402 309h1v1h-1zM508 309h1v1h-1zM587 309h1v1h-1zM731 309h2v1h-2zM91 310h2v1h-2zM200 310h1v1h-1zM237 310h1v1h-1zM340 310h1v1h-1zM402 310h1v1h-1zM508 310h1v1h-1zM587 310h1v1h-1zM731 310h1v1h-1zM92 311h3v1h-3zM200 311h1v1h-1zM237 311h1v1h-1zM339 311h2v1h-2zM402 311h1v1h-1zM508 311h1v1h-1zM587 311h1v1h-1zM730 311h2v1h-2zM94 312h2v1h-2zM200 312h2v1h-2zM237 312h1v1h-1zM339 312h1v1h-1zM402 312h1v1h-1zM508 312h1v1h-1zM587 312h1v1h-1zM730 312h1v1h-1zM95 313h2v1h-2zM201 313h1v1h-1zM237 313h1v1h-1zM338 313h2v1h-2zM402 313h1v1h-1zM507 313h2v1h-2zM587 313h1v1h-1zM729 313h2v1h-2zM96 314h2v1h-2zM201 314h1v1h-1zM237 314h1v1h-1zM338 314h1v1h-1zM402 314h1v1h-1zM507 314h1v1h-1zM587 314h1v1h-1zM729 314h1v1h-1zM97 315h2v1h-2zM201 315h2v1h-2zM237 315h1v1h-1zM337 315h2v1h-2zM402 315h1v1h-1zM507 315h1v1h-1zM587 315h1v1h-1zM728 315h2v1h-2zM98 316h2v1h-2zM202 316h1v1h-1zM237 316h1v1h-1zM337 316h1v1h-1zM402 316h1v1h-1zM506 316h2v1h-2zM587 316h1v1h-1zM728 316h1v1h-1zM99 317h2v1h-2zM202 317h1v1h-1zM237 317h1v1h-1zM337 317h1v1h-1zM402 317h1v1h-1zM506 317h1v1h-1zM587 317h1v1h-1zM727 317h2v1h-2zM100 318h2v1h-2zM202 318h1v1h-1zM237 318h1v1h-1zM336 318h2v1h-2zM402 318h1v1h-1zM506 318h1v1h-1zM587 318h1v1h-1zM727 318h1v1h-1zM101 319h2v1h-2zM202 319h1v1h-1zM237 319h1v1h-1zM336 319h1v1h-1zM402 319h1v1h-1zM506 319h1v1h-1zM587 319h1v1h-1zM727 319h1v1h-1zM102 320h2v1h-2zM202 320h1v1h-1zM237 320h1v1h-1zM336 320h1v1h-1zM402 320h1v1h-1zM506 320h1v1h-1zM586 320h2v1h-2zM726 320h2v1h-2zM103 321h2v1h-2zM202 321h1v1h-1zM237 321h1v1h-1zM335 321h2v1h-2zM402 321h1v1h-1zM506 321h1v1h-1zM586 321h1v1h-1zM726 321h1v1h-1zM104 322h2v1h-2zM202 322h1v1h-1zM237 322h1v1h-1zM335 322h1v1h-1zM402 322h1v1h-1zM506 322h1v1h-1zM586 322h1v1h-1zM726 322h1v1h-1zM105 323h3v1h-3zM202 323h1v1h-1zM237 323h1v1h-1zM334 323h2v1h-2zM402 323h1v1h-1zM505 323h2v1h-2zM586 323h1v1h-1zM725 323h2v1h-2zM107 324h2v1h-2zM202 324h1v1h-1zM237 324h1v1h-1zM334 324h1v1h-1zM402 324h1v1h-1zM505 324h1v1h-1zM586 324h1v1h-1zM725 324h1v1h-1zM108 325h2v1h-2zM202 325h1v1h-1zM237 325h1v1h-1zM333 325h2v1h-2zM402 325h1v1h-1zM504 325h2v1h-2zM586 325h1v1h-1zM725 325h1v1h-1zM109 326h3v1h-3zM202 326h1v1h-1zM237 326h1v1h-1zM332 326h2v1h-2zM402 326h1v1h-1zM503 326h2v1h-2zM586 326h1v1h-1zM725 326h1v1h-1zM111 327h3v1h-3zM202 327h1v1h-1zM237 327h1v1h-1zM332 327h1v1h-1zM402 327h1v1h-1zM503 327h1v1h-1zM586 327h1v1h-1zM724 327h2v1h-2zM113 328h2v1h-2zM202 328h1v1h-1zM237 328h1v1h-1zM331 328h2v1h-2zM402 328h1v1h-1zM503 328h1v1h-1zM586 328h2v1h-2zM724 328h1v1h-1zM114 329h3v1h-3zM202 329h1v1h-1zM237 329h1v1h-1zM331 329h1v1h-1zM402 329h1v1h-1zM502 329h2v1h-2zM587 329h1v1h-1zM724 329h1v1h-1zM116 330h3v1h-3zM202 330h1v1h-1zM237 330h1v1h-1zM330 330h2v1h-2zM401 330h2v1h-2zM502 330h1v1h-1zM587 330h1v1h-1zM723 330h2v1h-2zM118 331h2v1h-2zM202 331h1v1h-1zM237 331h1v1h-1zM330 331h1v1h-1zM400 331h2v1h-2zM502 331h1v1h-1zM587 331h1v1h-1zM723 331h1v1h-1zM119 332h3v1h-3zM202 332h1v1h-1zM237 332h1v1h-1zM330 332h1v1h-1zM399 332h2v1h-2zM502 332h1v1h-1zM587 332h1v1h-1zM722 332h2v1h-2zM121 333h3v1h-3zM201 333h2v1h-2zM237 333h1v1h-1zM329 333h2v1h-2zM399 333h1v1h-1zM502 333h1v1h-1zM587 333h1v1h-1zM721 333h2v1h-2zM123 334h3v1h-3zM201 334h1v1h-1zM237 334h2v1h-2zM329 334h1v1h-1zM399 334h1v1h-1zM501 334h2v1h-2zM587 334h1v1h-1zM720 334h2v1h-2zM125 335h3v1h-3zM201 335h1v1h-1zM238 335h1v1h-1zM328 335h2v1h-2zM389 335h3v1h-3zM399 335h1v1h-1zM501 335h1v1h-1zM587 335h2v1h-2zM719 335h2v1h-2zM127 336h3v1h-3zM200 336h2v1h-2zM238 336h2v1h-2zM327 336h2v1h-2zM389 336h1v1h-1zM391 336h2v1h-2zM399 336h1v1h-1zM501 336h1v1h-1zM588 336h1v1h-1zM718 336h2v1h-2zM129 337h2v1h-2zM200 337h1v1h-1zM239 337h2v1h-2zM326 337h2v1h-2zM392 337h1v1h-1zM399 337h1v1h-1zM500 337h2v1h-2zM588 337h1v1h-1zM718 337h1v1h-1zM130 338h3v1h-3zM198 338h3v1h-3zM240 338h2v1h-2zM325 338h2v1h-2zM392 338h1v1h-1zM399 338h1v1h-1zM499 338h2v1h-2zM588 338h1v1h-1zM717 338h2v1h-2zM132 339h3v1h-3zM197 339h2v1h-2zM241 339h1v1h-1zM324 339h2v1h-2zM392 339h1v1h-1zM399 339h1v1h-1zM405 339h1v1h-1zM499 339h1v1h-1zM588 339h1v1h-1zM716 339h2v1h-2zM134 340h3v1h-3zM196 340h2v1h-2zM241 340h2v1h-2zM324 340h1v1h-1zM392 340h1v1h-1zM397 340h3v1h-3zM404 340h2v1h-2zM498 340h2v1h-2zM588 340h2v1h-2zM715 340h2v1h-2zM136 341h3v1h-3zM194 341h3v1h-3zM242 341h2v1h-2zM323 341h2v1h-2zM392 341h1v1h-1zM396 341h4v1h-4zM403 341h2v1h-2zM497 341h2v1h-2zM589 341h2v1h-2zM714 341h2v1h-2zM138 342h4v1h-4zM192 342h3v1h-3zM243 342h2v1h-2zM322 342h2v1h-2zM392 342h1v1h-1zM395 342h9v1h-9zM496 342h2v1h-2zM590 342h1v1h-1zM713 342h2v1h-2zM141 343h4v1h-4zM190 343h3v1h-3zM244 343h2v1h-2zM321 343h2v1h-2zM392 343h1v1h-1zM394 343h3v1h-3zM496 343h1v1h-1zM590 343h2v1h-2zM712 343h2v1h-2zM144 344h3v1h-3zM188 344h3v1h-3zM245 344h2v1h-2zM320 344h2v1h-2zM392 344h4v1h-4zM495 344h2v1h-2zM591 344h2v1h-2zM711 344h2v1h-2zM146 345h4v1h-4zM186 345h3v1h-3zM246 345h2v1h-2zM319 345h2v1h-2zM392 345h2v1h-2zM494 345h2v1h-2zM592 345h1v1h-1zM710 345h2v1h-2zM149 346h4v1h-4zM185 346h2v1h-2zM247 346h2v1h-2zM317 346h3v1h-3zM392 346h2v1h-2zM493 346h2v1h-2zM592 346h2v1h-2zM709 346h2v1h-2zM152 347h3v1h-3zM183 347h3v1h-3zM248 347h2v1h-2zM316 347h2v1h-2zM392 347h2v1h-2zM492 347h2v1h-2zM593 347h2v1h-2zM707 347h3v1h-3zM154 348h4v1h-4zM182 348h2v1h-2zM249 348h2v1h-2zM315 348h2v1h-2zM392 348h1v1h-1zM491 348h2v1h-2zM594 348h2v1h-2zM706 348h2v1h-2zM157 349h5v1h-5zM180 349h3v1h-3zM250 349h2v1h-2zM314 349h2v1h-2zM391 349h2v1h-2zM491 349h1v1h-1zM595 349h2v1h-2zM705 349h2v1h-2zM161 350h8v1h-8zM179 350h2v1h-2zM251 350h2v1h-2zM312 350h3v1h-3zM390 350h2v1h-2zM490 350h2v1h-2zM596 350h3v1h-3zM703 350h3v1h-3zM168 351h12v1h-12zM252 351h2v1h-2zM311 351h2v1h-2zM389 351h2v1h-2zM489 351h2v1h-2zM598 351h3v1h-3zM702 351h2v1h-2zM253 352h3v1h-3zM310 352h2v1h-2zM388 352h2v1h-2zM488 352h2v1h-2zM600 352h3v1h-3zM700 352h3v1h-3zM255 353h2v1h-2zM308 353h3v1h-3zM387 353h2v1h-2zM487 353h2v1h-2zM602 353h3v1h-3zM699 353h2v1h-2zM256 354h3v1h-3zM307 354h2v1h-2zM386 354h2v1h-2zM486 354h2v1h-2zM604 354h3v1h-3zM698 354h2v1h-2zM258 355h3v1h-3zM306 355h2v1h-2zM385 355h2v1h-2zM485 355h2v1h-2zM606 355h4v1h-4zM696 355h3v1h-3zM260 356h5v1h-5zM305 356h2v1h-2zM384 356h2v1h-2zM484 356h2v1h-2zM609 356h3v1h-3zM694 356h3v1h-3zM264 357h5v1h-5zM304 357h2v1h-2zM383 357h2v1h-2zM483 357h2v1h-2zM611 357h3v1h-3zM690 357h5v1h-5zM268 358h6v1h-6zM301 358h4v1h-4zM380 358h4v1h-4zM483 358h1v1h-1zM613 358h4v1h-4zM685 358h6v1h-6zM273 359h7v1h-7zM298 359h4v1h-4zM379 359h2v1h-2zM482 359h2v1h-2zM616 359h3v1h-3zM681 359h5v1h-5zM279 360h20v1h-20zM378 360h2v1h-2zM481 360h2v1h-2zM618 360h6v1h-6zM677 360h5v1h-5zM377 361h2v1h-2zM481 361h1v1h-1zM623 361h55v1h-55zM376 362h2v1h-2zM480 362h2v1h-2zM375 363h2v1h-2zM479 363h2v1h-2zM374 364h2v1h-2zM479 364h1v1h-1zM374 365h1v1h-1zM478 365h2v1h-2zM373 366h2v1h-2zM478 366h1v1h-1zM372 367h2v1h-2zM477 367h2v1h-2zM371 368h2v1h-2zM477 368h1v1h-1zM371 369h1v1h-1zM477 369h1v1h-1zM370 370h2v1h-2zM476 370h2v1h-2zM369 371h2v1h-2zM476 371h1v1h-1zM368 372h2v1h-2zM475 372h2v1h-2zM367 373h2v1h-2zM475 373h1v1h-1zM366 374h2v1h-2zM475 374h1v1h-1zM365 375h2v1h-2zM474 375h2v1h-2zM363 376h3v1h-3zM474 376h1v1h-1zM362 377h2v1h-2zM474 377h1v1h-1zM361 378h2v1h-2zM474 378h1v1h-1zM360 379h2v1h-2zM474 379h1v1h-1zM359 380h2v1h-2zM474 380h1v1h-1zM358 381h2v1h-2zM474 381h1v1h-1zM357 382h2v1h-2zM474 382h1v1h-1zM356 383h2v1h-2zM474 383h1v1h-1zM356 384h1v1h-1zM474 384h1v1h-1zM355 385h2v1h-2zM474 385h1v1h-1zM354 386h2v1h-2zM473 386h2v1h-2zM354 387h1v1h-1zM473 387h1v1h-1zM353 388h2v1h-2zM473 388h1v1h-1zM353 389h1v1h-1zM473 389h1v1h-1zM353 390h1v1h-1zM473 390h1v1h-1zM352 391h2v1h-2zM473 391h1v1h-1zM352 392h1v1h-1zM473 392h1v1h-1zM351 393h2v1h-2zM473 393h1v1h-1zM351 394h1v1h-1zM473 394h1v1h-1zM351 395h1v1h-1zM473 395h1v1h-1zM351 396h1v1h-1zM473 396h1v1h-1zM350 397h2v1h-2zM473 397h1v1h-1zM350 398h1v1h-1zM472 398h2v1h-2zM350 399h1v1h-1zM472 399h1v1h-1zM350 400h1v1h-1zM472 400h1v1h-1zM350 401h1v1h-1zM472 401h1v1h-1zM349 402h2v1h-2zM472 402h1v1h-1zM349 403h1v1h-1zM472 403h1v1h-1zM349 404h1v1h-1zM472 404h1v1h-1zM349 405h1v1h-1zM472 405h1v1h-1zM349 406h1v1h-1zM472 406h1v1h-1zM349 407h1v1h-1zM472 407h1v1h-1zM349 408h1v1h-1zM471 408h2v1h-2zM349 409h1v1h-1zM471 409h1v1h-1zM349 410h1v1h-1zM471 410h1v1h-1zM349 411h1v1h-1zM471 411h1v1h-1zM349 412h1v1h-1zM471 412h1v1h-1zM349 413h1v1h-1zM471 413h1v1h-1zM349 414h1v1h-1zM471 414h1v1h-1zM349 415h1v1h-1zM471 415h1v1h-1zM349 416h1v1h-1zM470 416h2v1h-2zM349 417h2v1h-2zM470 417h1v1h-1zM350 418h1v1h-1zM469 418h2v1h-2zM350 419h1v1h-1zM469 419h1v1h-1zM350 420h2v1h-2zM468 420h2v1h-2zM351 421h1v1h-1zM468 421h1v1h-1zM351 422h1v1h-1zM467 422h2v1h-2zM351 423h2v1h-2zM467 423h1v1h-1zM352 424h1v1h-1zM466 424h2v1h-2zM352 425h2v1h-2zM466 425h1v1h-1zM353 426h2v1h-2zM465 426h2v1h-2zM354 427h2v1h-2zM464 427h2v1h-2zM355 428h3v1h-3zM463 428h2v1h-2zM357 429h2v1h-2zM462 429h2v1h-2zM358 430h6v1h-6zM460 430h3v1h-3zM363 431h5v1h-5zM459 431h2v1h-2zM367 432h6v1h-6zM458 432h2v1h-2zM372 433h8v1h-8zM457 433h2v1h-2zM379 434h7v1h-7zM455 434h3v1h-3zM385 435h7v1h-7zM454 435h2v1h-2zM391 436h6v1h-6zM453 436h2v1h-2zM396 437h58v1h-58z" fill="#000" shape-rendering="crispEdges"/>
<path d="M547.6,38.0L267.2,113.1" class="e"/>
<polygon points="254.4,116.5 266.0,108.6 268.5,117.6" class="ah"/>
<path d="M611.8,41.4L777.8,108.1" class="e"/>
<polygon points="790.2,113.1 776.1,112.5 779.6,103.8" class="ah"/>
<path d="M197.9,143.9L134.5,194.3" class="e"/>
<polygon points="124.1,202.6 131.6,190.6 137.5,198.0" class="ah"/>
<path d="M244.1,143.9L307.5,194.3" class="e"/>
<polygon points="317.9,202.6 304.5,198.0 310.4,190.6" class="ah"/>
<path d="M114.8,243.2L140.1,283.6" class="e"/>
<polygon points="147.2,294.8 136.1,286.1 144.1,281.1" class="ah"/>
<path d="M327.2,243.2L301.9,283.6" class="e"/>
<polygon points="294.8,294.8 297.9,281.1 305.9,286.1" class="ah"/>
<path d="M364.0,239.4L427.6,290.3" class="e"/>
<polygon points="438.0,298.6 424.6,293.9 430.5,286.6" class="ah"/>
<path d="M447.2,339.2L421.9,379.6" class="e"/>
<polygon points="414.8,390.8 417.9,377.1 425.9,382.1" class="ah"/>
<path d="M797.9,143.9L734.5,194.3" class="e"/>
<polygon points="724.1,202.6 731.6,190.6 737.5,198.0" class="ah"/>
<path d="M834.9,147.6L860.0,187.6" class="e"/>
<polygon points="867.1,198.9 856.0,190.1 864.0,185.1" class="ah"/>
<path d="M687.2,243.2L661.9,283.6" class="e"/>
<polygon points="654.8,294.8 657.9,281.1 665.9,286.1" class="ah"/>
<ellipse cx="581" cy="29" rx="36" ry="24" class="n"/>
<text x="581" y="34">r</text>
<ellipse cx="221" cy="125.5" rx="36" ry="24" class="n"/>
<text x="221" y="130">a</text>
<ellipse cx="821" cy="125.5" rx="36" ry="24" class="n"/>
<text x="821" y="130">b</text>
<ellipse cx="101" cy="221" rx="36" ry="24" class="n"/>
<text x="101" y="226">c</text>
<ellipse cx="341" cy="221" rx="36" ry="24" class="n"/>
<text x="341" y="226">d</text>
<ellipse cx="701" cy="221" rx="36" ry="24" class="n"/>
<text x="701" y="226">e</text>
<ellipse cx="881" cy="221" rx="36" ry="24" class="n"/>
<text x="881" y="226">f</text>
<ellipse cx="161" cy="317" rx="36" ry="24" class="n"/>
<text x="161" y="322">h</text>
<ellipse cx="281" cy="317" rx="36" ry="24" class="n"/>
<text x="281" y="322">i</text>
<ellipse cx="461" cy="317" rx="36" ry="24" class="n"/>
<text x="461" y="322">j</text>
<ellipse cx="641" cy="317" rx="36" ry="24" class="n"/>
<text x="641" y="322">k</text>
<ellipse cx="401" cy="413" rx="36" ry="24" class="n"/>
<text x="401" y="418">m</text>
</svg>
</body></html>
